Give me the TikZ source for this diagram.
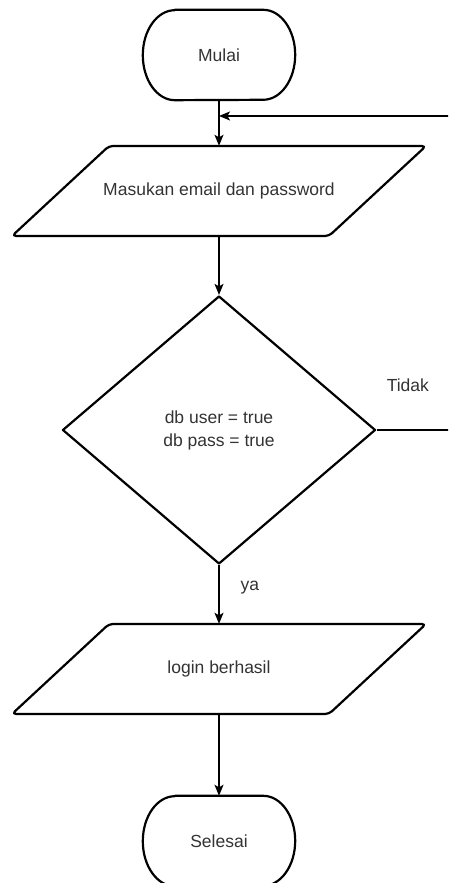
\documentclass[tikz,border=0pt]{standalone}
\usepackage{fontspec}
\setmainfont{Liberation Sans}
\usepackage{xcolor}
\usetikzlibrary{shapes.geometric,arrows.meta}
\definecolor{labelgray}{HTML}{333333}
\tikzset{>={Stealth[length=11pt, width=9pt, inset=2.5pt]}}

\tikzset{
    outline/.style={draw=black, line width=2.2pt, line join=round},
    flowline/.style={->, draw=black, line width=1.3pt},
    txt/.style={text=labelgray, font=\fontsize{17.5}{23}\selectfont, inner sep=0pt, align=center},
    % terminator: flat top and bottom, half-elliptic sides
    terminal/.style={txt, minimum width=152pt, minimum height=90pt,
        append after command={\pgfextra{
            \draw[outline] ([xshift=32pt]\tikzlastnode.north west) -- ([xshift=-32pt]\tikzlastnode.north east)
                arc[start angle=90, end angle=-90, x radius=32pt, y radius=45pt]
                -- ([xshift=32pt]\tikzlastnode.south west)
                arc[start angle=270, end angle=90, x radius=32pt, y radius=45pt] -- cycle;}}},
    % input/output box, leaning to the right
    inout/.style={txt, minimum width=317pt, minimum height=90pt,
        append after command={\pgfextra{
            \draw[outline, rounded corners=4pt] ([shift={(-110pt,45pt)}]\tikzlastnode.center) -- ([shift={(207pt,45pt)}]\tikzlastnode.center)
                -- ([shift={(110pt,-45pt)}]\tikzlastnode.center) -- ([shift={(-207pt,-45pt)}]\tikzlastnode.center) -- cycle;}}},
    decision/.style={txt, outline, diamond, aspect=1.17, minimum width=313pt, minimum height=268pt},
}

\begin{document}
\begin{tikzpicture}[x=1pt, y=1pt]

            % Page frame, everything past it is cut off
            \path[use as bounding box, clip] (0,0) rectangle (448,883);

            % Steps of the login flow
            \node[terminal] (mulai) at (219,828) {Mulai};
            \node[inout] (input) at (219,692) {Masukan email dan password};
            \node[decision] (cek) at (219,453) {db user = true\\db pass = true};
            \node[inout] (login) at (219,214) {login berhasil};
            \node[terminal] (selesai) at (219,42) {Selesai};

            % Main flow downwards
            \draw[flowline] (mulai) -- (input);
            \draw[flowline] (input) -- (cek);
            \draw[flowline] (cek) -- node[txt, pos=0.38, anchor=west, xshift=21pt] (ya) {ya} (login);
            \draw[flowline] (login) -- (selesai);

            % Loop back when the check fails
            \coordinate (balik) at (mulai.south |- 0,767);
            \node[txt, anchor=west] (tidak) at ([shift={(10pt,45pt)}]cek.east) {Tidak};
            \draw[flowline] (cek.east) -- (462,453) -- (462,767) -- (balik);

        \end{tikzpicture}
\end{document}
